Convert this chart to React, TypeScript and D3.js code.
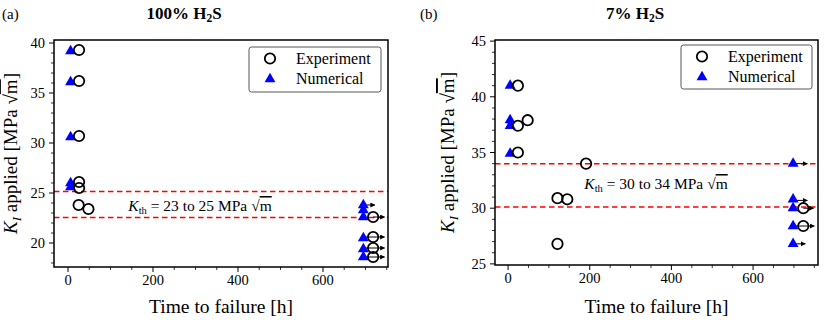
import React from 'react';
import * as d3 from 'd3';

// panel (a): 100% H2S
const expTimeA = [26, 26, 26, 26, 26, 25, 48, 718, 718, 718, 718];
const expKA = [39.3, 36.2, 30.7, 26.1, 25.5, 23.8, 23.4, 22.6, 20.6, 19.5, 18.6];
const numTimeA = [6, 6, 6, 6, 6, 695, 695, 695, 695, 695, 695];
const numKA = [39.2, 36.1, 30.6, 26.0, 25.6, 23.8, 23.3, 22.6, 20.5, 19.4, 18.6];
const runFromA = [695, 718, 695, 695, 695];
const runToA = [722, 745, 745, 745, 745];
const runKA = [23.8, 22.6, 20.6, 19.5, 18.6];
const kthA = [22.55, 25.15];

// panel (b): 7% H2S
const expTimeB = [24, 24, 48, 24, 191, 121, 145, 121, 723, 723];
const expKB = [41.0, 37.4, 37.9, 35.0, 34.0, 30.9, 30.8, 26.8, 30.0, 28.4];
const numTimeB = [5, 5, 5, 5, 698, 698, 698, 698, 698];
const numKB = [41.0, 37.9, 37.4, 34.9, 34.0, 30.8, 30.0, 28.4, 26.8];
const runFromB = [698, 698, 723, 698, 698];
const runToB = [733, 733, 748, 750, 728];
const runKB = [34.0, 30.7, 30.0, 28.4, 26.8];
const kthB = [30.1, 34.0];

const xTicks = [0, 200, 400, 600];
const yTicksA = [20, 25, 30, 35, 40];
const yTicksB = [25, 30, 35, 40, 45];

const FONT = 'Liberation Serif, DejaVu Serif, serif';

const SqrtM = () => (
  <>
    <tspan>√</tspan>
    <tspan style={{ textDecoration: 'overline' }}>m</tspan>
  </>
);

type PanelProps = {
  tag: string;
  title: string;
  box: { l: number; r: number; t: number; b: number };
  xDomain: [number, number];
  yDomain: [number, number];
  yTicks: number[];
  expT: number[];
  expK: number[];
  numT: number[];
  numK: number[];
  runFrom: number[];
  runTo: number[];
  runK: number[];
  kth: number[];
  kthLabel: string;
  kthPos: [number, number];
  legend: { x: number; y: number; w: number; h: number };
  ylabX: number;
  tagX: number;
  titleX: number;
};

function Panel(p: PanelProps) {
  const { l, r, t, b } = p.box;
  const x = d3.scaleLinear().domain(p.xDomain).range([l, r]);
  const y = d3.scaleLinear().domain(p.yDomain).range([b, t]);
  const minorX = d3.range(0, p.xDomain[1], 50).filter(v => !xTicks.includes(v));
  const minorY = d3.range(Math.ceil(p.yDomain[0]), p.yDomain[1], 1).filter(v => !p.yTicks.includes(v));
  const tri = d3.symbol().type(d3.symbolTriangle).size(52)()!;
  const cx = (l + r) / 2;
  const cy = (t + b) / 2;
  const lg = p.legend;
  return (
    <g style={{ fontFamily: FONT }}>
      <text x={p.tagX} y={19} fontSize={15}>{p.tag}</text>
      <text x={p.titleX} y={19} fontSize={17} fontWeight="bold" textAnchor="middle">
        {p.title}% H<tspan fontSize={11.5} dy={3}>2</tspan><tspan dy={-3}>S</tspan>
      </text>

      {p.kth.map((k, i) => (
        <line key={i} x1={l} x2={r} y1={y(k)} y2={y(k)} stroke="red" strokeWidth={1.5} strokeDasharray="5.5 3.5" />
      ))}
      <text x={p.kthPos[0]} y={p.kthPos[1]} fontSize={15.5} textAnchor="middle">
        <tspan fontStyle="italic">K</tspan>
        <tspan fontSize={10.5} dy={3}>th</tspan>
        <tspan dy={-3}>{` = ${p.kthLabel} MPa `}</tspan>
        <SqrtM />
      </text>

      {p.runK.map((k, i) => (
        <line key={'r' + i} x1={x(p.runFrom[i])} x2={x(p.runTo[i])} y1={y(k)} y2={y(k)}
          stroke="black" strokeWidth={1} markerEnd="url(#arrowhead)" />
      ))}

      {p.numK.map((k, i) => (
        <path key={'n' + i} d={tri} transform={`translate(${x(p.numT[i])},${y(k)})`} fill="blue" />
      ))}
      {p.expK.map((k, i) => (
        <circle key={'e' + i} cx={x(p.expT[i])} cy={y(k)} r={5.2} fill="none" stroke="black" strokeWidth={1.8} />
      ))}

      <rect x={l} y={t} width={r - l} height={b - t} fill="none" stroke="black" strokeWidth={1.5} />

      {xTicks.map(v => (
        <g key={'x' + v}>
          <line x1={x(v)} x2={x(v)} y1={b} y2={b + 5} stroke="black" strokeWidth={1} />
          <text x={x(v)} y={b + 18} fontSize={14.5} textAnchor="middle">{v}</text>
        </g>
      ))}
      {minorX.map(v => (
        <line key={'mx' + v} x1={x(v)} x2={x(v)} y1={b} y2={b + 3} stroke="black" strokeWidth={0.8} />
      ))}
      {p.yTicks.map(v => (
        <g key={'y' + v}>
          <line x1={l - 5} x2={l} y1={y(v)} y2={y(v)} stroke="black" strokeWidth={1} />
          <text x={l - 9} y={y(v) + 5} fontSize={14.5} textAnchor="end">{v}</text>
        </g>
      ))}
      {minorY.map(v => (
        <line key={'my' + v} x1={l - 3} x2={l} y1={y(v)} y2={y(v)} stroke="black" strokeWidth={0.8} />
      ))}

      <text x={cx} y={313} fontSize={19.5} textAnchor="middle">Time to failure [h]</text>
      <text transform={`translate(${p.ylabX},${cy}) rotate(-90)`} fontSize={19} textAnchor="middle">
        <tspan fontStyle="italic">K</tspan>
        <tspan fontSize={13} fontStyle="italic" dy={4}>I</tspan>
        <tspan dy={-4}>{' applied [MPa '}</tspan>
        <SqrtM />
        <tspan>]</tspan>
      </text>

      <rect x={lg.x} y={lg.y} width={lg.w} height={lg.h} rx={2.5} fill="white" fillOpacity={0.8} stroke="#555" strokeWidth={1} />
      <circle cx={lg.x + 21} cy={lg.y + 11.5} r={5.2} fill="none" stroke="black" strokeWidth={1.8} />
      <path d={tri} transform={`translate(${lg.x + 21},${lg.y + 32})`} fill="blue" />
      <text x={lg.x + 47} y={lg.y + 17} fontSize={16}>Experiment</text>
      <text x={lg.x + 47} y={lg.y + 37} fontSize={16}>Numerical</text>
    </g>
  );
}

export default function App() {
  return (
    <svg width={831} height={320} style={{ position: 'absolute', left: 0, top: 0, background: 'white' }}>
      <defs>
        <marker id="arrowhead" viewBox="0 0 10 10" refX={9} refY={5} markerWidth={5} markerHeight={5}
          markerUnits="userSpaceOnUse" orient="auto">
          <path d="M0,0 L10,5 L0,10 z" fill="black" />
        </marker>
      </defs>
      <Panel tag="(a)" title="100" box={{ l: 54, r: 388, t: 40, b: 267 }}
        xDomain={[-33, 753]} yDomain={[17.6, 40.3]} yTicks={yTicksA}
        expT={expTimeA} expK={expKA} numT={numTimeA} numK={numKA}
        runFrom={runFromA} runTo={runToA} runK={runKA} kth={kthA}
        kthLabel="23 to 25" kthPos={[200, 211]}
        legend={{ x: 249, y: 47, w: 132, h: 45 }} ylabX={17} tagX={2} titleX={184} />
      <Panel tag="(b)" title="7" box={{ l: 495, r: 818, t: 40, b: 265 }}
        xDomain={[-32, 759]} yDomain={[24.9, 45.1]} yTicks={yTicksB}
        expT={expTimeB} expK={expKB} numT={numTimeB} numK={numKB}
        runFrom={runFromB} runTo={runToB} runK={runKB} kth={kthB}
        kthLabel="30 to 34" kthPos={[656, 189]}
        legend={{ x: 681, y: 45, w: 131, h: 44 }} ylabX={454} tagX={420} titleX={635} />
    </svg>
  );
}
